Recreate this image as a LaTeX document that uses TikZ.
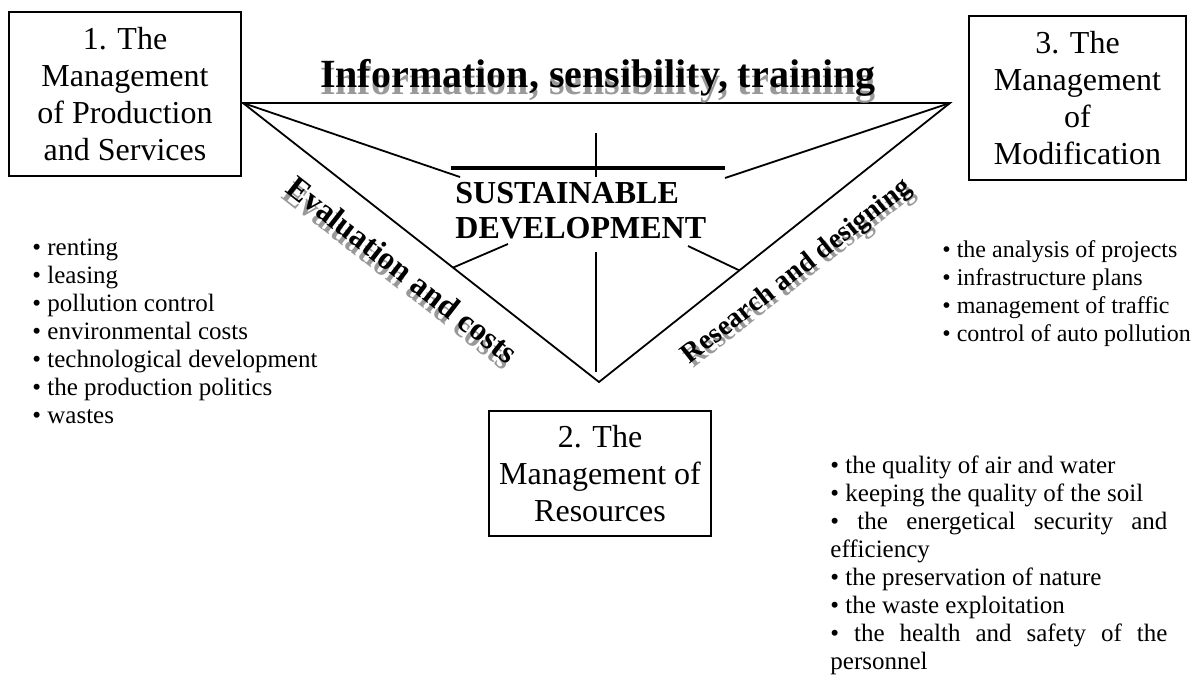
\documentclass[tikz,border=0pt]{standalone}
\usepackage{fontspec}
\setmainfont{Liberation Serif}
\usetikzlibrary{calc}

\tikzset{
  mbox/.style={draw, line width=1pt, align=center, inner sep=0pt,
    font=\fontsize{16}{18.5}\selectfont},
  edge/.style={line width=0.9pt},
  lbl/.style={font=\bfseries\fontsize{#1}{#1}\selectfont, inner sep=0pt},
  lblshadow/.style={lbl=#1, text=black!40},
  items/.style={anchor=north west, inner sep=0pt, align=left,
    font=\fontsize{12.5}{14}\selectfont},
}

\begin{document}
\begin{tikzpicture}[x=0.5pt,y=-0.5pt]
  \useasboundingbox (0,0) rectangle (1193,675);

  % the three managements
  \node[mbox, minimum width=116pt, minimum height=82pt] (prod) at (125,94) {1. The\\Management\\of Production\\and Services};
  \node[mbox, minimum width=108.5pt, minimum height=82pt] (modif) at (1077.5,98) {3. The\\Management\\of\\Modification};
  \node[mbox, minimum width=111pt, minimum height=62.5pt] (res) at (600,473.5) {2. The\\Management of\\Resources};

  % triangle
  \coordinate (A) at (243,103);
  \coordinate (B) at (950,103);
  \coordinate (C) at (599,382);
  \draw[edge] (A) -- (B) -- (C) -- cycle;

  % centre
  \node[lbl=16, anchor=north west, align=left, font=\bfseries\fontsize{16}{17.5}\selectfont] (sd) at (455,182) {SUSTAINABLE\\DEVELOPMENT};
  \draw[line width=2pt] (451,168) coordinate (bar1) -- (725,168) coordinate (bar2);

  % spokes
  \coordinate (s1) at (460,177);
  \coordinate (s2a) at (596,133);
  \coordinate (s2b) at (596,177);
  \coordinate (s3) at (725,178);
  \coordinate (s4) at (508,244);
  \coordinate (s5a) at (596,252);
  \coordinate (s5b) at (596,372);
  \coordinate (s6) at (688,246);
  \draw[edge] (A) -- (s1);
  \draw[edge] (s2a) -- (s2b);
  \draw[edge] (s3) -- (B);
  \draw[edge] (s4) -- ($(A)!0.59!(C)$);
  \draw[edge] (s5a) -- (s5b);
  \draw[edge] (s6) -- ($(B)!0.6!(C)$);

  % side labels with their shadows
  \coordinate (infpos) at (598,87);
  \coordinate (evlpos) at (403,270);
  \coordinate (respos) at (797,272);
  \node[lblshadow=20, anchor=base] at ($(infpos)+(-90:3.5pt)$) {Information, sensibility, training};
  \node[lbl=20, anchor=base] (inf) at (infpos) {Information, sensibility, training};
  \node[lblshadow=16, rotate=-38] at ($(evlpos)+(-128:3.5pt)$) {Evaluation and costs};
  \node[lbl=16, rotate=-38] (evl) at (evlpos) {Evaluation and costs};
  \node[lblshadow=14, rotate=38] at ($(respos)+(-52:3pt)$) {Research and designing};
  \node[lbl=14, rotate=38] (rsd) at (respos) {Research and designing};

  % lists
  \node[items] (prodlist) at (32,239) {• renting\\• leasing\\• pollution control\\• environmental costs\\• technological development\\• the production politics\\• wastes};
  \node[items, font=\fontsize{12}{14}\selectfont] (modiflist) at (942,240) {• the analysis of projects\\• infrastructure plans\\• management of traffic\\• control of auto pollution};
  \node[items, align=justify, text width=168.5pt] (reslist) at (830,455) {• the quality of air and water\newline
    • keeping the quality of the soil\newline
    • the energetical security and\linebreak efficiency\newline
    • the preservation of nature\newline
    • the waste exploitation\newline
    • the health and safety of the\linebreak personnel};
\end{tikzpicture}
\end{document}
